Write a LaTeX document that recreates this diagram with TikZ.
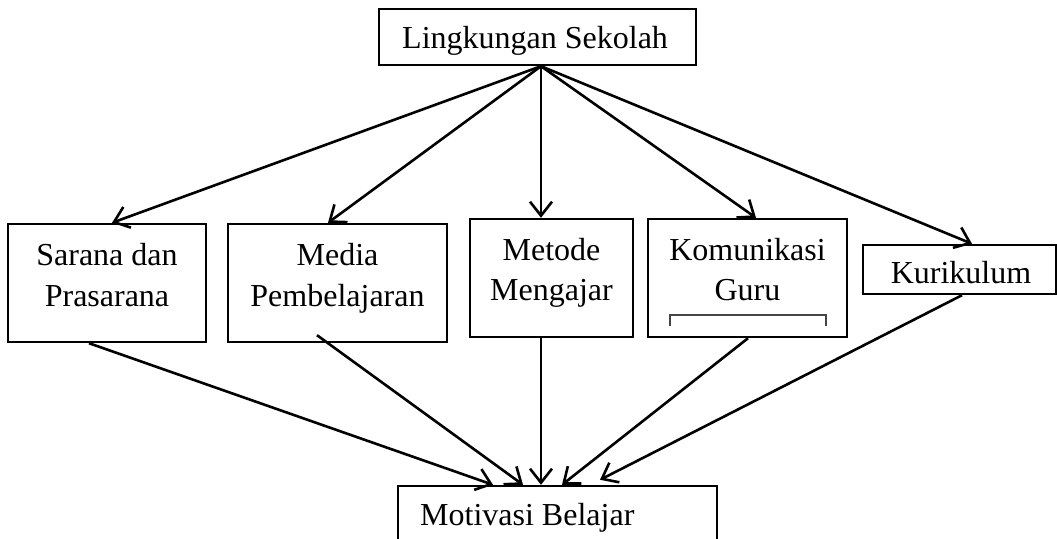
\documentclass[tikz,border=0pt]{standalone}
\usepackage{fontspec}
\setmainfont{Liberation Serif}
\usetikzlibrary{arrows.meta,calc}
\begin{document}
\begin{tikzpicture}[x=1pt,y=-1pt,
  box/.style={draw, line width=2.4pt, inner sep=0pt},
  lbl/.style={anchor=base, inner sep=0pt, font=\fontsize{32}{40}\selectfont},
  conn/.style={line width=2.6pt, -{Straight Barb[length=14pt,width=22pt,line width=2.6pt]}}]
\useasboundingbox (0,0) rectangle (1057,538);
\clip (0,0) rectangle (1057,538);
% boxes
\node[box, minimum width=317pt, minimum height=56pt] (top) at (537.5,37) {};
\node[box, minimum width=198pt, minimum height=118pt] (sarana) at (107,283) {};
\node[box, minimum width=219pt, minimum height=118pt] (media) at (337.5,283) {};
\node[box, minimum width=163pt, minimum height=118pt] (metode) at (551.5,278) {};
\node[box, minimum width=199pt, minimum height=118pt] (kom) at (747.5,278) {};
\node[box, minimum width=193pt, minimum height=49pt] (kur) at (959.5,269.5) {};
\node[box, minimum width=319pt, minimum height=74pt] (mot) at (557.5,523) {};
% texts
\node[lbl, anchor=base west] (tTop) at (402,48) {Lingkungan Sekolah};
\node[lbl] (tSar1) at (107,265) {Sarana dan};
\node[lbl] (tSar2) at (107,306) {Prasarana};
\node[lbl] (tMed1) at (337.5,265) {Media};
\node[lbl] (tMed2) at (337.5,306) {Pembelajaran};
\node[lbl] (tMet1) at (551.5,260) {Metode};
\node[lbl] (tMet2) at (551.5,300) {Mengajar};
\node[lbl] (tKom1) at (747.5,260) {Komunikasi};
\node[lbl] (tKom2) at (747.5,300) {Guru};
\node[lbl] (tKur) at (961,283) {Kurikulum};
\node[lbl, anchor=base west] (tMot) at (420,525) {Motivasi Belajar};
% bracket inside Komunikasi Guru box
\draw[gray!55!black, line width=1.8pt] (670,326) -- (670,315) -- (826,315) -- (826,326);
% connectors from top
\coordinate (src) at ([xshift=3.5pt]top.south);
\draw[conn] (src) -- ([xshift=5pt]sarana.north);
\draw[conn] (src) -- ([xshift=-9.5pt]media.north);
\draw[conn] (src) -- ([xshift=-10.5pt]metode.north);
\draw[conn] (src) -- ([xshift=8.5pt]kom.north);
\draw[conn] (src) -- ([xshift=12.5pt]kur.north);
% connectors to Motivasi
\draw[conn] ([xshift=-18pt]sarana.south) -- ([xshift=-64.5pt]mot.north);
\draw[conn] ([xshift=-20.5pt,yshift=8pt]media.south) -- ([xshift=-34.5pt]mot.north);
\draw[conn] ([xshift=-10.5pt]metode.south) -- ([xshift=-16.5pt]mot.north);
\draw[conn] ([xshift=0.5pt]kom.south) -- ([xshift=4.5pt]mot.north);
\draw[conn] ([xshift=2.5pt]kur.south) -- ([xshift=42.5pt,yshift=5pt]mot.north);
\end{tikzpicture}
\end{document}
